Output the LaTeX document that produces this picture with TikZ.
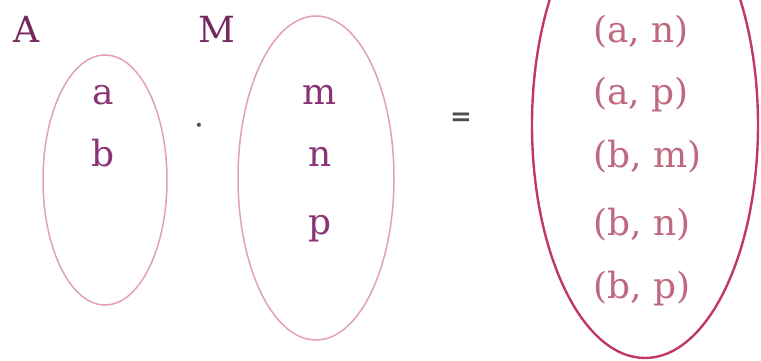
\documentclass[tikz,border=0pt]{standalone}
\usepackage{fontspec}
\setmainfont{DejaVu Serif}
\definecolor{setname}{HTML}{74285C}
\definecolor{elemcolor}{HTML}{8A3474}
\definecolor{paircolor}{HTML}{C0687F}
\definecolor{ringcolor}{HTML}{E3A0B4}
\definecolor{productring}{HTML}{C0386A}
\tikzset{
  prod name/.style={text=setname,anchor=base,inner sep=0pt},
  prod elem/.style={text=elemcolor,anchor=base,inner sep=0pt},
  prod pair/.style={text=paircolor,anchor=base west,inner sep=0pt},
  prod sign/.style={text=black!70,anchor=center,inner sep=0pt},
  prod ring/.style={ringcolor,line width=1.5pt},
  prod big ring/.style={productring,line width=2.4pt}
}
\begin{document}
\begin{tikzpicture}[x=1pt,y=-1pt,font=\fontsize{36}{40}\selectfont]
  \useasboundingbox (0,0) rectangle (761,361);
  \clip (0,0) rectangle (761,361);
  \node[prod name] (setA) at (26,43) {A};
  \node[prod name] (setM) at (217,43) {M};
  \draw[prod ring] (105,180) ellipse [x radius=62,y radius=125];
  \draw[prod ring] (316,178) ellipse [x radius=78,y radius=162];
  \draw[prod big ring] (645,125) ellipse [x radius=113,y radius=233];
  \foreach \e/\y in {a/105,b/166}{
    \node[prod elem] (\e) at (103,\y) {\e};
  }
  \foreach \e/\y in {m/105,n/166,p/234}{
    \node[prod elem] (\e) at (320,\y) {\e};
  }
  \foreach \u/\v/\y in {a/n/43,a/p/105,b/m/167,b/n/235,b/p/298}{
    \node[prod pair] (\u\v) at (593,\y) {(\u, \v)};
  }
  \node[prod sign,font=\fontsize{14}{16}\selectfont] (times) at (199,127) {•};
  \node[prod sign,font=\fontsize{26}{30}\selectfont\bfseries] (equals) at (461,119) {=};
\end{tikzpicture}
\end{document}
